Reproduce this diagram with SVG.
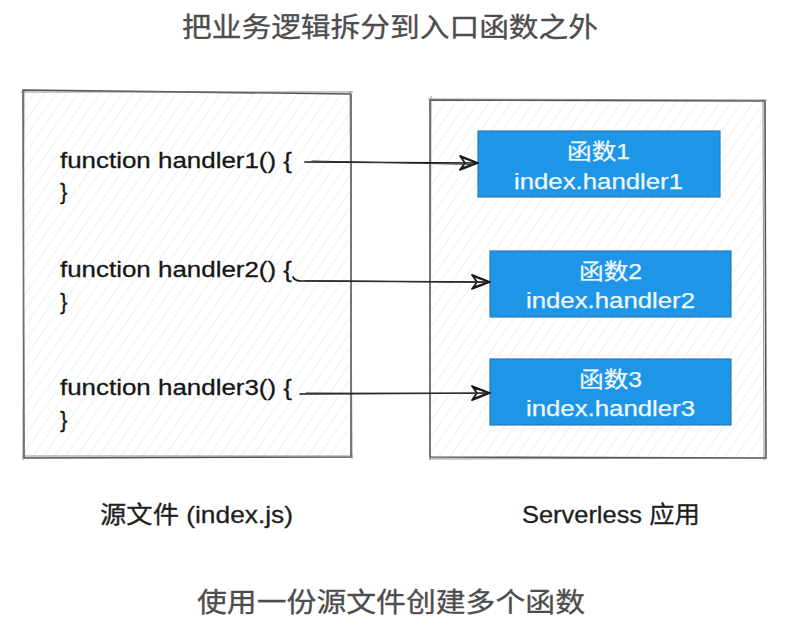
<svg xmlns="http://www.w3.org/2000/svg" width="789" height="632" viewBox="0 0 789 632">
<style>
.title{font-family:"Liberation Sans","Noto Sans CJK SC",sans-serif;font-size:27px;fill:#4d4d4d;stroke:#4d4d4d;stroke-width:0.3}
.label{font-family:"Liberation Sans","Noto Sans CJK SC",sans-serif;font-size:24px;fill:#1e1e1e;stroke:#1e1e1e;stroke-width:0.3}
.code{font-family:"Liberation Sans","Noto Sans CJK SC",sans-serif;font-size:22.5px;fill:#161616;stroke:#161616;stroke-width:0.3}
.fn{font-family:"Liberation Sans","Noto Sans CJK SC",sans-serif;font-size:22px;fill:#f2f8ff;stroke:#f2f8ff;stroke-width:0.25}
.frame{fill:none;stroke:#555;stroke-width:1.6;stroke-linejoin:round}
.frame2{fill:none;stroke:#777;stroke-width:1;opacity:.8}
.blue{fill:#1d96e8;stroke:#2c78b8;stroke-width:1.2}
.wire{fill:none;stroke:#1a1a1a;stroke-width:1.7;stroke-linecap:round}
.wire2{fill:none;stroke:#333;stroke-width:1;stroke-linecap:round}
</style>
<defs>
<pattern id="hatch" patternUnits="userSpaceOnUse" width="9" height="9" patternTransform="rotate(35)">
<line x1="0" y1="0" x2="0" y2="9" stroke="#e3e3e3" stroke-width="1"/>
</pattern>
<marker id="arr" markerUnits="userSpaceOnUse" markerWidth="20" markerHeight="18" viewBox="0 0 20 18" refX="19" refY="9" orient="auto">
<path d="M1,2 L19,9 L1,16 M3,3.5 L18,9 L2.5,14.5 M1,2 L6,9 L1,16" fill="none" stroke="#1a1a1a" stroke-width="1.8" stroke-linejoin="round" stroke-linecap="round"/>
</marker>
</defs>
<rect width="789" height="632" fill="#fff"/>
<g id="title">
<text class="title" x="182" y="37" textLength="416" lengthAdjust="spacingAndGlyphs">把业务逻辑拆分到入口函数之外</text>
</g>
<g id="source-file">
<rect x="23" y="91" width="328" height="366" fill="url(#hatch)"/>
<path class="frame" d="M23,90 L351,94 L351,457 L24,458 Z"/>
<path class="frame2" d="M21,92 L353,92 M350,91 L352,459 M22,456 L353,456 M24,89 L23,460"/>
<text class="code" x="60" y="168" textLength="232" lengthAdjust="spacingAndGlyphs">function handler1() {</text>
<text class="code" x="60" y="199">}</text>
<text class="code" x="60" y="277" textLength="232" lengthAdjust="spacingAndGlyphs">function handler2() {</text>
<text class="code" x="60" y="309">}</text>
<text class="code" x="60" y="395" textLength="232" lengthAdjust="spacingAndGlyphs">function handler3() {</text>
<text class="code" x="60" y="427">}</text>
</g>
<g id="serverless-app">
<rect x="430" y="100" width="335" height="358" fill="url(#hatch)"/>
<path class="frame" d="M430,100 L765,101 L766,458 L430,457 Z"/>
<path class="frame2" d="M428,99 L767,100 M763,99 L764,460 M429,459 L767,458 M431,96 L430,460"/>
</g>
<g id="fn1">
<rect class="blue" x="478" y="131" width="242" height="66"/>
<text class="fn" x="567" y="159" textLength="63" lengthAdjust="spacingAndGlyphs">函数1</text>
<text class="fn" x="514" y="189" textLength="169" lengthAdjust="spacingAndGlyphs">index.handler1</text>
</g>
<g id="fn2">
<rect class="blue" x="490" y="251" width="241" height="66"/>
<text class="fn" x="579" y="279" textLength="63" lengthAdjust="spacingAndGlyphs">函数2</text>
<text class="fn" x="526" y="308" textLength="169" lengthAdjust="spacingAndGlyphs">index.handler2</text>
</g>
<g id="fn3">
<rect class="blue" x="490" y="359" width="241" height="66"/>
<text class="fn" x="579" y="387" textLength="63" lengthAdjust="spacingAndGlyphs">函数3</text>
<text class="fn" x="526" y="416" textLength="169" lengthAdjust="spacingAndGlyphs">index.handler3</text>
</g>
<g id="connectors">
<path class="wire" d="M305,162 L478,163" marker-end="url(#arr)"/>
<path class="wire2" d="M312,161 L474,164.5"/>
<path class="wire" d="M293,277 Q295,281 301,281 L490,282" marker-end="url(#arr)"/>
<path class="wire2" d="M305,280.5 L486,282.5"/>
<path class="wire" d="M300,394 L490,393" marker-end="url(#arr)"/>
<path class="wire2" d="M306,393 L486,393.5"/>
</g>
<g id="labels">
<text class="label" x="100" y="523" textLength="193" lengthAdjust="spacingAndGlyphs">源文件 (index.js)</text>
<text class="label" x="522" y="523" textLength="178" lengthAdjust="spacingAndGlyphs">Serverless 应用</text>
</g>
<g id="caption">
<text class="title" x="197" y="612" textLength="388" lengthAdjust="spacingAndGlyphs">使用一份源文件创建多个函数</text>
</g>
</svg>
